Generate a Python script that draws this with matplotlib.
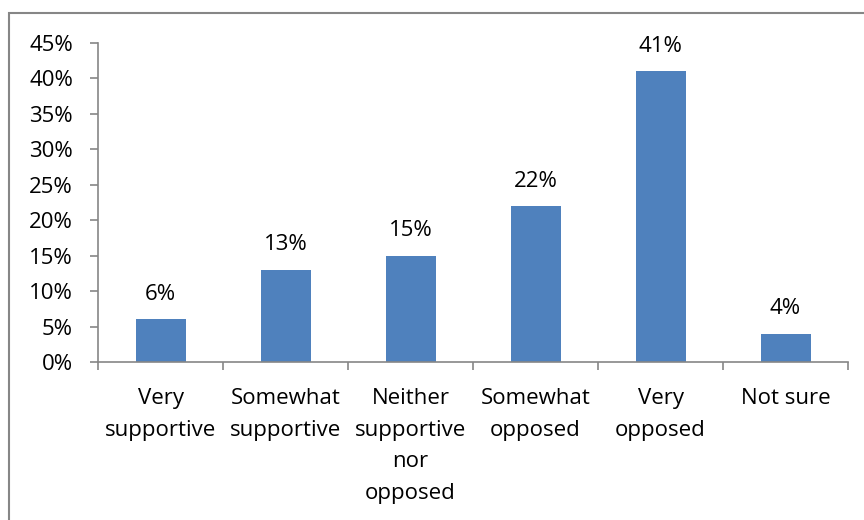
import matplotlib.pyplot as plt
from matplotlib.patches import Rectangle
import numpy as np

categories = ["Very\nsupportive", "Somewhat\nsupportive", "Neither\nsupportive\nnor\nopposed",
              "Somewhat\nopposed", "Very\nopposed", "Not sure"]
values = [6, 13, 15, 22, 41, 4]
yticks = [0, 5, 10, 15, 20, 25, 30, 35, 40, 45]

plt.rcParams['font.family'] = ['Open Sans', 'DejaVu Sans']
axis_gray = '#868686'
fs = 16

fig = plt.figure(figsize=(8.64, 5.2), dpi=100)
ax = fig.add_axes([98 / 864, 1 - 362 / 520, 750 / 864, 319 / 520])

# outer chart border (runs off the right and bottom edges)
fig.patches.append(Rectangle((9 / 864, -0.1), 1.0, 1 - 13 / 520 + 0.1,
                             transform=fig.transFigure, fill=False,
                             edgecolor=axis_gray, linewidth=1.5))

x = np.arange(len(categories))
bars = ax.bar(x, values, width=0.4, color='#4F81BD')
for xi, v in zip(x, values):
    ax.annotate(f"{v}%", (xi, v), xytext=(0, 14), textcoords='offset points',
                ha='center', va='baseline', fontsize=fs)

ax.set_xlim(-0.5, len(categories) - 0.5)
ax.set_ylim(0, 45)
ax.set_yticks(yticks)
ax.set_yticklabels([f"{t}%" for t in yticks], fontsize=fs)

# category boundaries as ticks, labels as minor ticks
ax.set_xticks(np.arange(len(categories) + 1) - 0.5)
ax.set_xticklabels([])
ax.set_xticks(x, minor=True)
ax.set_xticklabels(categories, minor=True, fontsize=fs, linespacing=1.65, va='top')
ax.tick_params(axis='x', which='minor', length=0, pad=19)
ax.tick_params(axis='x', which='major', length=6, width=1.2, color=axis_gray, direction='out')
ax.tick_params(axis='y', length=6, width=1.2, color=axis_gray, direction='out', pad=12)

for s in ['top', 'right']:
    ax.spines[s].set_visible(False)
for s in ['left', 'bottom']:
    ax.spines[s].set_color(axis_gray)
    ax.spines[s].set_linewidth(1.2)

fig.savefig('out.png', dpi=100)
